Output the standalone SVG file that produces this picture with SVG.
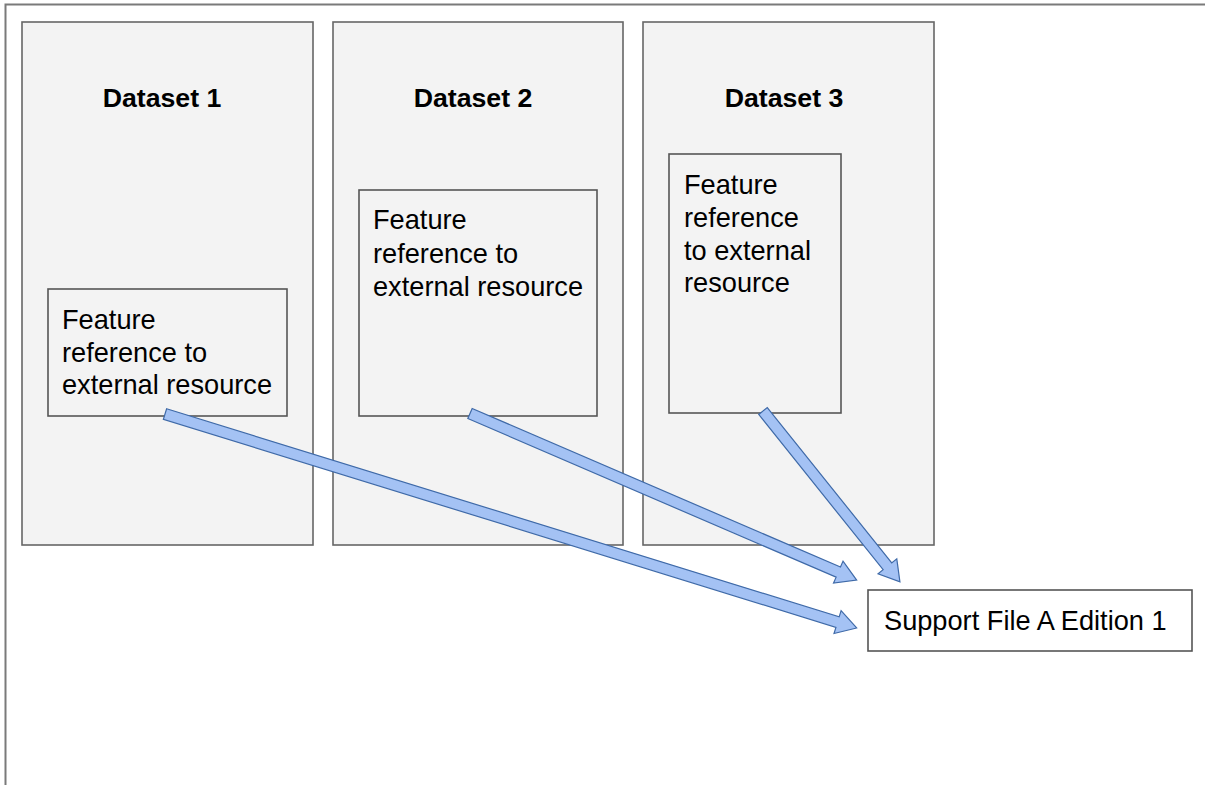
<svg xmlns="http://www.w3.org/2000/svg" width="1205" height="785" viewBox="0 0 1205 785">
<style>
.frame{fill:none;stroke:#7a7a7a;stroke-width:2}
.ds{fill:#f3f3f3;stroke:#666666;stroke-width:1.6}
.box{fill:#f3f3f3;stroke:#555555;stroke-width:1.6}
.sup{fill:#ffffff;stroke:#555555;stroke-width:1.6}
.title{font-family:"Liberation Sans",Arial,sans-serif;font-size:26.7px;font-weight:bold;fill:#000;text-anchor:middle}
.txt{font-family:"Liberation Sans",Arial,sans-serif;font-size:27.2px;fill:#000}
.arrow{fill:#a4c2f4;stroke:#3f6aa8;stroke-width:1.2;stroke-linejoin:miter}
</style>
<rect width="1205" height="785" fill="#ffffff"/>
<path class="frame" d="M5.5 790 V4.5 H1210"/>
<g id="dataset1">
<rect class="ds" x="22" y="22" width="291" height="523"/>
<text class="title" x="162" y="107">Dataset 1</text>
</g>
<g id="dataset2">
<rect class="ds" x="333" y="22" width="290" height="523"/>
<text class="title" x="473" y="107">Dataset 2</text>
</g>
<g id="dataset3">
<rect class="ds" x="643" y="22" width="291" height="523"/>
<text class="title" x="784" y="107">Dataset 3</text>
</g>
<g id="feature1">
<rect class="box" x="48" y="289" width="239" height="127"/>
<text class="txt" x="62" y="329">Feature</text>
<text class="txt" x="62" y="362">reference to</text>
<text class="txt" x="62" y="394">external resource</text>
</g>
<g id="feature2">
<rect class="box" x="359" y="190" width="238" height="226"/>
<text class="txt" x="373" y="229">Feature</text>
<text class="txt" x="373" y="263">reference to</text>
<text class="txt" x="373" y="296">external resource</text>
</g>
<g id="feature3">
<rect class="box" x="669" y="154" width="172" height="259"/>
<text class="txt" x="684" y="194">Feature</text>
<text class="txt" x="684" y="227">reference</text>
<text class="txt" x="684" y="260">to external</text>
<text class="txt" x="684" y="292">resource</text>
</g>
<g id="support">
<rect class="sup" x="868" y="590" width="324" height="61"/>
<text class="txt" x="884" y="630">Support File A Edition 1</text>
</g>
<g id="connectors">
<path class="arrow" transform="translate(165 414) rotate(17.19)" d="M0 -5.5 H704 V-12 L724 0 L704 12 V5.5 H0 Z"/>
<path class="arrow" transform="translate(470 413.5) rotate(23.3)" d="M0 -5.5 H401 V-12 L421 0 L401 12 V5.5 H0 Z"/>
<path class="arrow" transform="translate(763 411) rotate(51.3)" d="M0 -5.5 H199 V-12 L219 0 L199 12 V5.5 H0 Z"/>
</g>
</svg>
